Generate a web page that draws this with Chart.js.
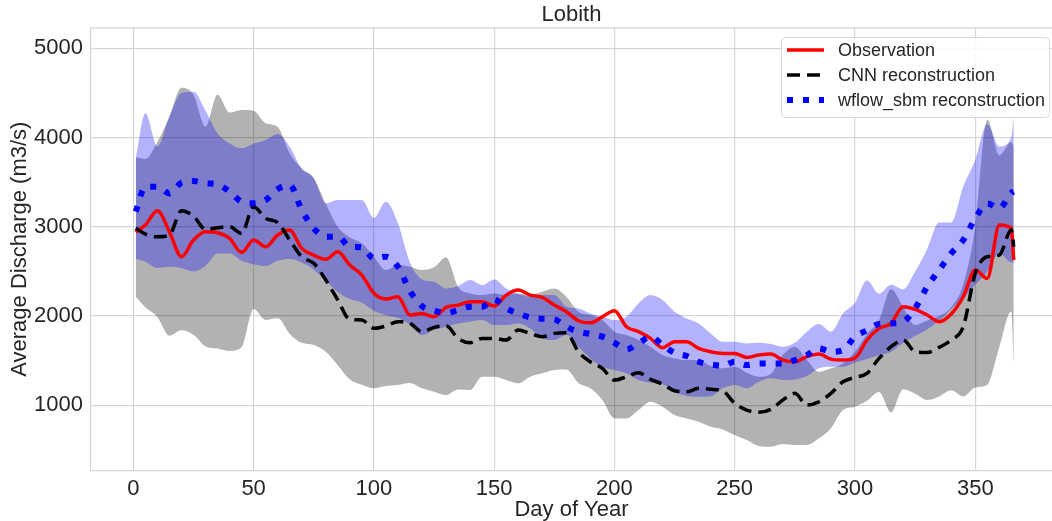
<!DOCTYPE html>
<html>
<head>
<meta charset="utf-8">
<script src="https://cdn.jsdelivr.net/npm/chart.js@4.4.1/dist/chart.umd.min.js"></script>
<style>
  html, body { margin: 0; padding: 0; background: #fff; }
  #wrap { width: 1052px; height: 521px; position: relative; }
</style>
</head>
<body>
<div id="wrap"><canvas id="chart"></canvas></div>
<script>
var days = [1,5,10,15,20,25,30,35,40,45,50,55,60,65,70,75,80,85,90,95,100,105,110,115,120,125,130,135,140,145,150,155,160,165,170,175,180,185,190,195,200,205,210,215,220,225,230,235,240,245,250,255,260,265,270,275,280,285,290,295,300,305,310,315,320,325,330,335,340,345,350,355,360,365,366];

var observation = [2940,3020,3180,2945,2665,2852,2945,2934,2871,2714,2852,2777,2908,2964,2759,2684,2636,2722,2572,2460,2255,2191,2217,2012,2030,1993,2097,2123,2161,2161,2112,2235,2291,2235,2209,2123,2049,1948,1925,1993,2060,1881,1825,1750,1645,1713,1713,1638,1600,1582,1582,1537,1563,1574,1507,1488,1545,1574,1518,1507,1530,1732,1862,1918,2105,2075,2012,1937,2023,2217,2516,2423,3020,2983,2628];

var cnnRecon = [2983,2919,2889,2908,3181,3121,2972,2990,3001,2927,3226,3095,3047,2852,2665,2591,2404,2180,1963,1956,1863,1889,1937,1919,1825,1873,1892,1750,1701,1750,1750,1731,1843,1806,1769,1806,1813,1600,1488,1414,1283,1320,1365,1290,1238,1163,1152,1190,1180,1163,1022,947,921,954,1059,1134,1003,1040,1134,1264,1313,1358,1526,1657,1732,1601,1593,1649,1732,1881,2479,2665,2684,2964,2777];

var wflowRecon = [3170,3450,3450,3375,3495,3513,3487,3476,3394,3282,3263,3300,3424,3469,3188,2983,2890,2890,2778,2770,2647,2666,2553,2280,2112,2060,2037,2067,2105,2105,2187,2086,2030,1985,1970,1963,1881,1825,1799,1769,1701,1627,1694,1769,1675,1589,1552,1488,1458,1444,1488,1451,1470,1470,1470,1507,1563,1638,1600,1619,1769,1840,1911,1918,1937,2086,2329,2516,2703,2852,3095,3263,3207,3382,3394];

var cnnMin = [2217,2100,1990,1780,1840,1790,1660,1638,1610,1650,2080,1956,1975,1800,1700,1676,1600,1450,1290,1230,1190,1216,1227,1250,1190,1152,1115,1178,1171,1320,1320,1283,1246,1320,1358,1395,1400,1250,1190,1059,853,853,947,1040,984,891,853,816,760,730,667,611,544,536,566,555,555,630,742,947,985,1050,1150,920,1180,1130,1060,1100,1170,1100,1200,1230,1650,2050,1460];

var cnnMax = [3780,3760,3950,4234,4560,4480,4122,4480,4280,4309,4300,4160,4120,3823,3655,3543,3260,3000,2880,2815,2666,2516,2572,2553,2516,2546,2657,2329,2254,2236,2254,2236,2254,2236,2273,2310,2217,2049,2011,1955,1825,1787,1731,1657,1563,1526,1507,1507,1440,1414,1432,1365,1320,1350,1563,1657,1507,1375,1414,1470,1600,1800,1950,2300,2100,1900,1950,2000,2100,2350,3000,4200,3800,3950,3900];

var wflowMin = [2640,2610,2540,2553,2540,2500,2560,2700,2700,2620,2580,2560,2620,2640,2600,2520,2400,2270,2190,2150,2060,2010,1980,1900,1787,1843,1881,1918,1937,1955,1899,1899,1918,1862,1750,1731,1787,1657,1526,1433,1395,1358,1283,1253,1238,1152,1104,1096,1100,1190,1227,1190,1264,1302,1283,1290,1328,1414,1432,1432,1480,1520,1560,1600,1700,1780,1850,1950,2080,2200,2350,2500,2700,2600,2600];

var wflowMax = [3768,4272,3900,4234,4500,4514,4300,4048,3935,3880,3930,3972,4040,3898,3650,3550,3263,3300,3300,3300,3100,3282,3040,2600,2411,2385,2310,2336,2403,2348,2411,2310,2247,2217,2236,2236,2105,2086,2030,1993,1955,1993,2142,2235,2179,2049,1974,1918,1806,1713,1713,1694,1701,1686,1657,1701,1825,1911,1825,2030,2150,2400,2250,2350,2300,2500,2750,3050,3050,3450,3750,4150,3900,4000,4250];

var xTicks = [0, 50, 100, 150, 200, 250, 300, 350];
var yTicks = [1000, 2000, 3000, 4000, 5000];

var FONT = '"Liberation Sans", Arial, sans-serif';
var TEXT = '#262626';
var GRID = '#d6d6d6';

function pts(arr) {
  return days.map(function (d, i) { return { x: d, y: arr[i] }; });
}

// matplotlib style legend box inside the plot
var legendBox = {
  id: 'legendBox',
  afterDatasetsDraw: function (chart) {
    var ctx = chart.ctx;
    var items = chart.data.datasets.slice(0, 3);
    ctx.save();
    ctx.fillStyle = 'rgba(255,255,255,0.85)';
    ctx.strokeStyle = '#d9d9d9';
    ctx.lineWidth = 1;
    ctx.beginPath();
    ctx.roundRect(781.5, 37.5, 268, 80, 4);
    ctx.fill();
    ctx.stroke();
    items.forEach(function (ds, i) {
      var y = 50 + i * 25;
      ctx.strokeStyle = ds.borderColor;
      ctx.lineWidth = ds.borderWidth;
      ctx.lineCap = 'butt';
      ctx.setLineDash(ds.borderDash || []);
      ctx.beginPath();
      ctx.moveTo(787, y);
      ctx.lineTo(824, y);
      ctx.stroke();
      ctx.setLineDash([]);
      ctx.fillStyle = TEXT;
      ctx.font = '18px ' + FONT;
      ctx.textBaseline = 'middle';
      ctx.fillText(ds.label, 838, y + 1);
    });
    ctx.restore();
  }
};

// top spine
var topSpine = {
  id: 'topSpine',
  beforeDatasetsDraw: function (chart) {
    var a = chart.chartArea, ctx = chart.ctx;
    ctx.save();
    ctx.strokeStyle = GRID;
    ctx.lineWidth = 1.2;
    ctx.beginPath();
    ctx.moveTo(a.left, a.top + 0.5);
    ctx.lineTo(a.right, a.top + 0.5);
    ctx.stroke();
    ctx.restore();
  }
};

var bandLine = { borderWidth: 0, pointRadius: 0, cubicInterpolationMode: 'monotone' };

new Chart(document.getElementById('chart'), {
  type: 'line',
  data: {
    datasets: [
      { label: 'Observation', data: pts(observation), borderColor: '#ff0000', borderWidth: 3.5,
        pointRadius: 0, fill: false, cubicInterpolationMode: 'monotone', order: 2 },
      { label: 'CNN reconstruction', data: pts(cnnRecon), borderColor: '#000000', borderWidth: 3.5,
        borderDash: [13, 7], pointRadius: 0, fill: false, cubicInterpolationMode: 'monotone', order: 1 },
      { label: 'wflow_sbm reconstruction', data: pts(wflowRecon), borderColor: '#0000ff', borderWidth: 6,
        borderDash: [6, 10], pointRadius: 0, fill: false, cubicInterpolationMode: 'monotone', order: 0 },
      Object.assign({ label: 'cnn min', data: pts(cnnMin), fill: false, order: 6 }, bandLine),
      Object.assign({ label: 'cnn max', data: pts(cnnMax), fill: 3, backgroundColor: 'rgba(0,0,0,0.3)', order: 5 }, bandLine),
      Object.assign({ label: 'wflow min', data: pts(wflowMin), fill: false, order: 4 }, bandLine),
      Object.assign({ label: 'wflow max', data: pts(wflowMax), fill: 5, backgroundColor: 'rgba(0,0,255,0.3)', order: 3 }, bandLine)
    ]
  },
  options: {
    responsive: true,
    maintainAspectRatio: false,
    animation: false,
    layout: { padding: 0 },
    plugins: {
      legend: { display: false },
      tooltip: { enabled: false },
      title: {
        display: true, text: 'Lobith', color: TEXT, fullSize: false,
        font: { family: FONT, size: 22, weight: 'normal', lineHeight: 1.15 },
        padding: { top: 2, bottom: 0 }
      }
    },
    scales: {
      x: {
        type: 'linear', min: -17.6, max: 381.9,
        afterBuildTicks: function (s) { s.ticks = xTicks.map(function (v) { return { value: v }; }); },
        afterFit: function (s) { s.height = 50; },
        grid: { color: GRID, lineWidth: 1.2, drawTicks: false },
        border: { display: true, color: GRID, width: 1.2 },
        ticks: { color: TEXT, padding: 5, font: { family: FONT, size: 22 },
          callback: function (v) { return String(v); } },
        title: { display: true, text: 'Day of Year', color: TEXT, padding: { top: 0, bottom: 0 },
          font: { family: FONT, size: 22, lineHeight: 1.0 } }
      },
      y: {
        min: 264, max: 5236,
        afterBuildTicks: function (s) { s.ticks = yTicks.map(function (v) { return { value: v }; }); },
        afterFit: function (s) { s.width = 91; },
        grid: { color: GRID, lineWidth: 1.2, drawTicks: false },
        border: { display: true, color: GRID, width: 1.2 },
        ticks: { color: TEXT, padding: 8, font: { family: FONT, size: 22 },
          callback: function (v) { return String(v); } },
        title: { display: true, text: 'Average Discharge (m3/s)', color: TEXT, padding: { top: 7, bottom: 0 },
          font: { family: FONT, size: 22 } }
      }
    }
  },
  plugins: [topSpine, legendBox]
});
</script>
</body>
</html>
